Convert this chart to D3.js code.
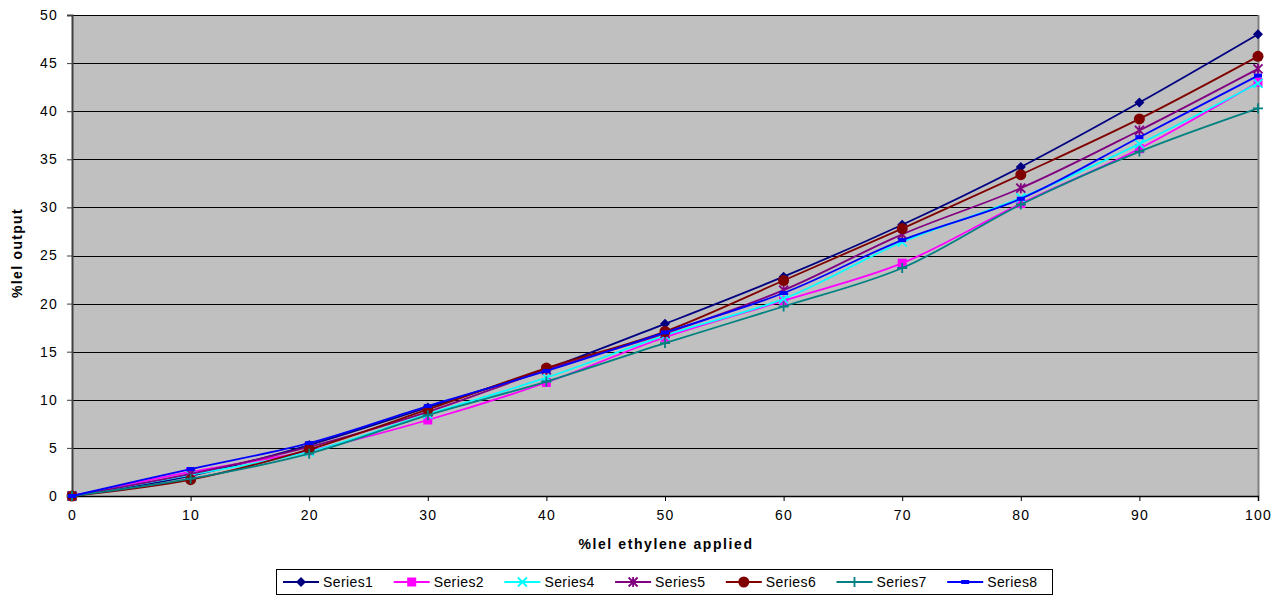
<!DOCTYPE html>
<html>
<head>
<meta charset="utf-8">
<script src="https://cdn.jsdelivr.net/npm/d3@7"></script>
<style>
  body { margin: 0; background: #fff; }
  text { font-family: Arial, "Liberation Sans", sans-serif; }
</style>
</head>
<body>
<div id="main"></div>
<script>
// DATA
const xValues = [0, 10, 20, 30, 40, 50, 60, 70, 80, 90, 100]
const series1 = [0, 2.1, 5.3, 9.2, 13.2, 17.9, 22.8, 28.2, 34.2, 40.9, 48.0]
const series2 = [0, 2.5, 4.7, 7.9, 11.8, 16.5, 20.3, 24.2, 30.4, 36.1, 43.0]
const series4 = [0, 2.2, 4.6, 8.5, 12.3, 16.7, 20.5, 26.4, 31.0, 36.6, 42.9]
const series5 = [0, 2.3, 5.1, 8.75, 13.1, 16.9, 21.4, 27.2, 32.0, 38.0, 44.4]
const series6 = [0, 1.7, 4.85, 9.0, 13.3, 17.1, 22.4, 27.8, 33.4, 39.2, 45.7]
const series7 = [0, 1.8, 4.4, 8.4, 11.9, 15.9, 19.7, 23.7, 30.3, 35.8, 40.3]
const series8 = [0, 2.8, 5.5, 9.35, 13.0, 17.0, 21.1, 26.6, 30.9, 37.3, 43.7]
const seriesNames = ["Series1", "Series2", "Series4", "Series5", "Series6", "Series7", "Series8"]
const yTicks = [0, 5, 10, 15, 20, 25, 30, 35, 40, 45, 50]

// SETUP
const width = 1286, height = 601
const margin = {top: 15, right: 28, bottom: 105, left: 72}
const innerW = width - margin.left - margin.right
const innerH = height - margin.top - margin.bottom

const series = [
  {name: seriesNames[0], values: series1, color: "#000080", marker: "diamond"},
  {name: seriesNames[1], values: series2, color: "#ff00ff", marker: "square"},
  {name: seriesNames[2], values: series4, color: "#00ffff", marker: "x"},
  {name: seriesNames[3], values: series5, color: "#800080", marker: "star"},
  {name: seriesNames[4], values: series6, color: "#800000", marker: "circle"},
  {name: seriesNames[5], values: series7, color: "#008080", marker: "plus"},
  {name: seriesNames[6], values: series8, color: "#0000ff", marker: "dash"}
]

let x = d3.scaleLinear().domain([0, 100]).range([0, innerW])
let y = d3.scaleLinear().domain([0, 50]).range([innerH, 0])

let svg = d3.select("#main").append("svg")
  .attr("width", width)
  .attr("height", height)

let g = svg.append("g").attr("transform", `translate(${margin.left},${margin.top})`)

// plot area
g.append("rect")
  .attr("width", innerW).attr("height", innerH)
  .attr("fill", "#c0c0c0")

// gridlines
g.selectAll("line.grid")
  .data(yTicks.filter(d => d > 0))
  .enter().append("line")
    .attr("class", "grid")
    .attr("x1", 0).attr("x2", innerW)
    .attr("y1", d => Math.round(y(d)) + 0.5).attr("y2", d => Math.round(y(d)) + 0.5)
    .attr("stroke", "#000").attr("stroke-width", 1)

// right border
g.append("line")
  .attr("x1", innerW + 0.5).attr("x2", innerW + 0.5)
  .attr("y1", 0).attr("y2", innerH)
  .attr("stroke", "#808080").attr("stroke-width", 2)

// axes
let yAxis = g.append("g")
  .call(d3.axisLeft(y).tickValues(yTicks).tickSize(5).tickPadding(9))
yAxis.select(".domain").attr("stroke", "#404040").attr("stroke-width", 2)
yAxis.selectAll(".tick line").attr("stroke", "#404040")
yAxis.selectAll("text").attr("font-size", "14px").attr("fill", "#000").attr("letter-spacing", "1.2px")

let xAxis = g.append("g")
  .attr("transform", `translate(0,${innerH})`)
  .call(d3.axisBottom(x).tickValues(xValues).tickSize(5).tickPadding(9))
xAxis.select(".domain").attr("stroke", "#000").attr("stroke-width", 1.5)
xAxis.selectAll("text").attr("font-size", "14px").attr("fill", "#000").attr("letter-spacing", "1.2px")

// titles
svg.append("text")
  .attr("x", margin.left + innerW / 2 + 1).attr("y", 549)
  .attr("text-anchor", "middle")
  .attr("font-size", "14px").attr("font-weight", "bold")
  .attr("letter-spacing", "1.6px")
  .text("%lel ethylene applied")

svg.append("text")
  .attr("transform", "translate(22,253) rotate(-90)")
  .attr("text-anchor", "middle")
  .attr("font-size", "14px").attr("font-weight", "bold")
  .attr("letter-spacing", "1.3px")
  .text("%lel output")

// markers
function drawMarker(sel, type, color) {
  if (type === "diamond") {
    sel.append("path").attr("d", "M0,-5L5,0L0,5L-5,0Z").attr("fill", color)
  } else if (type === "square") {
    sel.append("rect").attr("x", -4.5).attr("y", -4.5).attr("width", 9).attr("height", 9).attr("fill", color)
  } else if (type === "circle") {
    sel.append("circle").attr("r", 5.5).attr("fill", color)
  } else if (type === "x") {
    sel.append("path").attr("d", "M-4.5,-4.5L4.5,4.5M-4.5,4.5L4.5,-4.5").attr("stroke", color).attr("stroke-width", 1.8)
  } else if (type === "star") {
    sel.append("path").attr("d", "M-4.5,-4.5L4.5,4.5M-4.5,4.5L4.5,-4.5M0,-5L0,5").attr("stroke", color).attr("stroke-width", 1.8)
  } else if (type === "plus") {
    sel.append("path").attr("d", "M-5,0L5,0M0,-5L0,5").attr("stroke", color).attr("stroke-width", 1.8)
  } else if (type === "dash") {
    sel.append("rect").attr("x", -4).attr("y", -2).attr("width", 8).attr("height", 4).attr("fill", color)
  }
}

// DRAW lines
let line = d3.line()
  .x((d, i) => x(xValues[i]))
  .y(d => y(d))
  .curve(d3.curveCatmullRom.alpha(0.5))

series.forEach(s => {
  let sg = g.append("g")
  sg.append("path")
    .datum(s.values)
    .attr("d", line)
    .attr("fill", "none")
    .attr("stroke", s.color)
    .attr("stroke-width", 1.8)
  sg.selectAll("g.pt")
    .data(s.values)
    .enter().append("g")
      .attr("class", "pt")
      .attr("transform", (d, i) => `translate(${x(xValues[i])},${y(d)})`)
      .each(function() { drawMarker(d3.select(this), s.marker, s.color) })
})

// LEGEND
let legend = svg.append("g")
legend.append("rect")
  .attr("x", 276.5).attr("y", 569.5).attr("width", 776).attr("height", 25)
  .attr("fill", "#fff").attr("stroke", "#000").attr("stroke-width", 1)

series.forEach((s, i) => {
  let lx = 283 + i * 110.7
  let item = legend.append("g").attr("transform", `translate(${lx},582)`)
  item.append("line").attr("x1", 0).attr("x2", 36).attr("y1", 0).attr("y2", 0)
    .attr("stroke", s.color).attr("stroke-width", 1.8)
  let m = item.append("g").attr("transform", "translate(18,0)")
  drawMarker(m, s.marker, s.color)
  item.append("text").attr("x", 40).attr("y", 5)
    .attr("font-size", "14px")
    .attr("letter-spacing", "0.4px")
    .text(s.name)
})
</script>
</body>
</html>
